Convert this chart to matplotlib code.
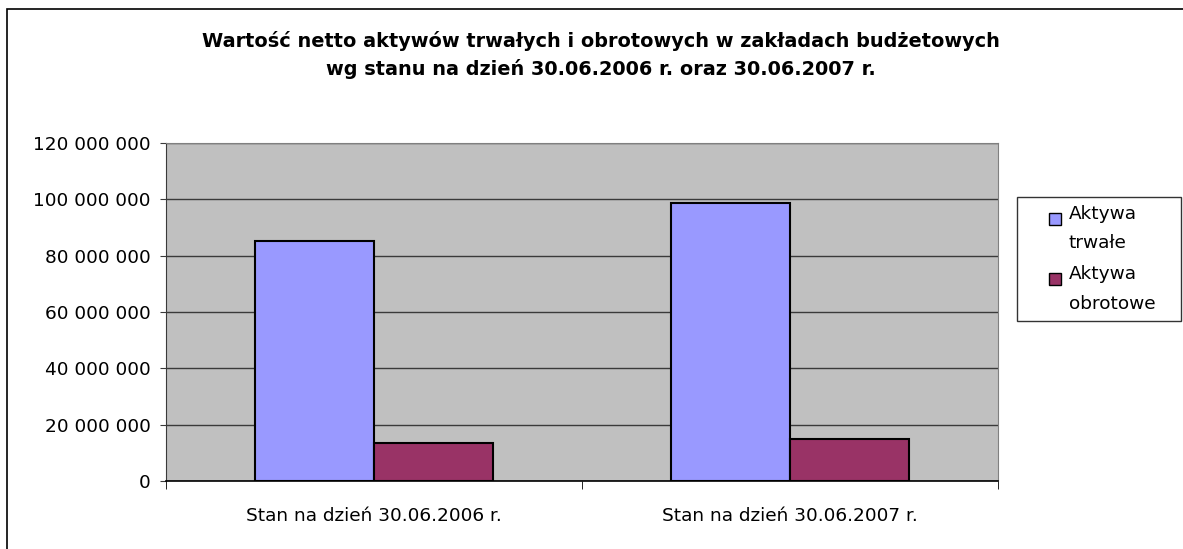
import matplotlib
matplotlib.use("Agg")
import matplotlib.pyplot as plt
from matplotlib.patches import Rectangle
from matplotlib.legend_handler import HandlerPatch
from matplotlib.ticker import FuncFormatter, MultipleLocator
import numpy as np

plt.rcParams.update({
    "font.family": ["DejaVu Sans"],
    "font.size": 13.3,
})

categories = ["Stan na dzień 30.06.2006 r.", "Stan na dzień 30.06.2007 r."]
series_names = ["Aktywa\ntrwałe", "Aktywa\nobrotowe"]
aktywa_trwale = [85_200_000, 98_600_000]
aktywa_obrotowe = [13_500_000, 14_900_000]
title = ("Wartość netto aktywów trwałych i obrotowych w zakładach budżetowych\n"
         "wg stanu na dzień 30.06.2006 r. oraz 30.06.2007 r.")

BLUE = "#9999FF"; MAROON = "#993366"; PLOT_BG = "#C0C0C0"


class TopSquare(HandlerPatch):
    # small square aligned with the first line of a two-line label (Excel style)
    def create_artists(self, legend, orig_handle, xdescent, ydescent, width, height,
                       fontsize, trans):
        s = 8.6
        p = Rectangle((width - xdescent - s, 8.0), s, s,
                      facecolor=orig_handle.get_facecolor(), edgecolor="black",
                      linewidth=1.0, transform=trans)
        return [p]


fig = plt.figure(figsize=(11.83, 5.49), dpi=100)
ax = fig.add_axes([0.1403, 0.1239, 0.7033, 0.6157])
ax.set_facecolor(PLOT_BG)

# outer chart border (only top and left edges fall inside the picture)
fig.patches.append(Rectangle((0.0059, -0.5), 2.0, 0.9836 + 0.5, transform=fig.transFigure,
                             fill=False, edgecolor="black", linewidth=1.2))

x = np.arange(len(categories))
w = 1 / 3.5
b1 = ax.bar(x - w / 2, aktywa_trwale, w, color=BLUE, edgecolor="black", linewidth=1.5,
            label=series_names[0], zorder=3)
b2 = ax.bar(x + w / 2, aktywa_obrotowe, w, color=MAROON, edgecolor="black", linewidth=1.5,
            label=series_names[1], zorder=3)

ax.set_xlim(-0.5, len(categories) - 0.5)
ax.set_ylim(0, 120_000_000)
ax.yaxis.set_major_locator(MultipleLocator(20_000_000))
ax.yaxis.set_major_formatter(FuncFormatter(lambda v, p: f"{int(v):,}".replace(",", " ")))
ax.grid(axis="y", color="#3a3a3a", linewidth=1.0, zorder=1)
ax.set_axisbelow(True)

ax.set_xticks(x)
ax.set_xticklabels(categories)
ax.set_xticks(np.arange(-0.5, len(categories)), minor=True)
ax.tick_params(axis="x", which="major", length=0, pad=19)
ax.tick_params(axis="x", which="minor", length=6, color="black")
ax.tick_params(axis="y", length=4, color="#3a3a3a", pad=7)

for s in ["top", "right"]:
    ax.spines[s].set_color("#808080")
    ax.spines[s].set_linewidth(0.8)
ax.spines["left"].set_color("#3a3a3a")
ax.spines["bottom"].set_color("black")
ax.spines["bottom"].set_linewidth(1.2)

fig.text(0.508, 0.943, title, ha="center", va="top", fontsize=13.9, fontweight="bold",
         linespacing=1.5)

leg = fig.legend(handles=[b1.patches[0], b2.patches[0]], labels=series_names,
                 handler_map={b1.patches[0]: TopSquare(), b2.patches[0]: TopSquare()},
                 loc="upper left", bbox_to_anchor=(0.8597, 0.408, 0.1386, 0.2332),
                 mode="expand", frameon=True, fancybox=False, edgecolor="black",
                 handlelength=1.92, handleheight=0.7, handletextpad=0.43,
                 labelspacing=0.7, borderpad=0.45, borderaxespad=0)
leg.get_frame().set_linewidth(1.0)
for t in leg.get_texts():
    t.set_linespacing(1.8)

fig.savefig("out.png", dpi=100)
